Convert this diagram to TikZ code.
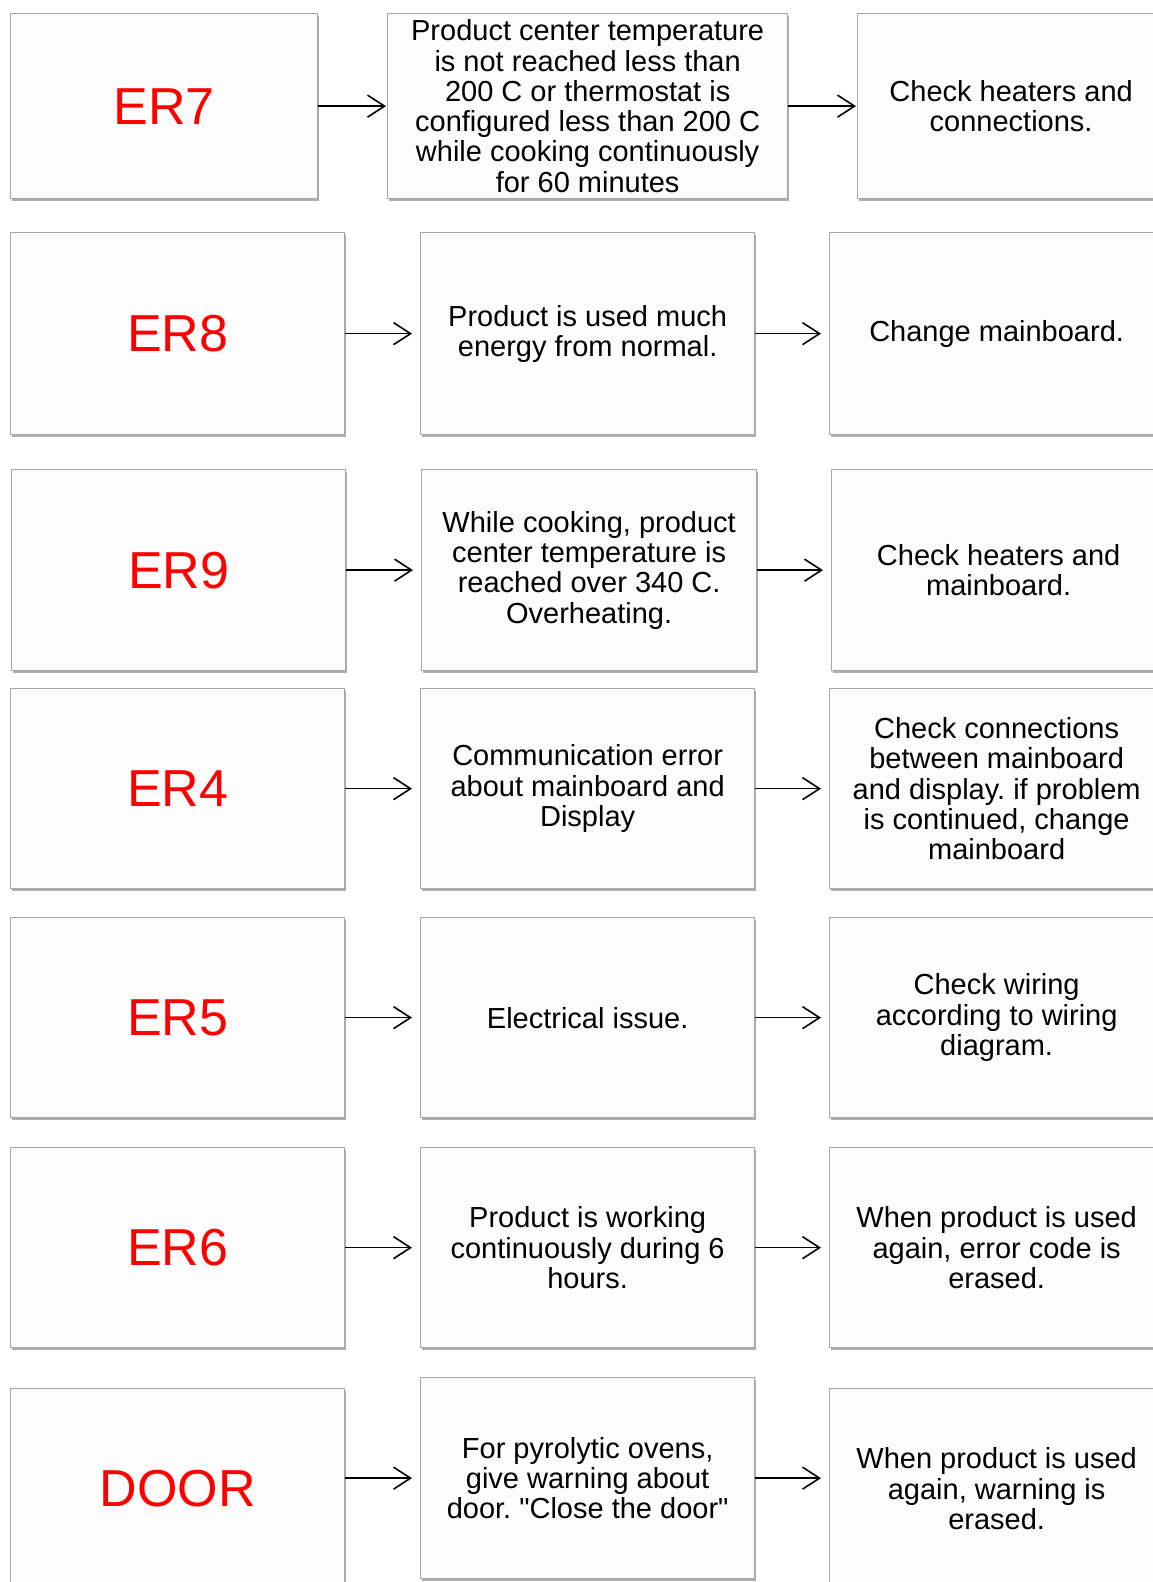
\documentclass[tikz,border=0pt]{standalone}
\usepackage{fontspec}
\setmainfont{Liberation Sans}[Ligatures=TeXOff]
\usetikzlibrary{arrows.meta,shadows}
\frenchspacing
\begin{document}
\begin{tikzpicture}[x=1pt,y=-1pt,
  box/.style={draw=gray!70, line width=1.3pt, fill=black!1, anchor=north west,
    align=center, inner sep=0pt, font=\fontsize{29}{30.3}\selectfont,
    drop shadow={shadow xshift=1.2pt, shadow yshift=-2.5pt, opacity=0.45, fill=black!70}},
  codebox/.style={box, text=red, font=\fontsize{52}{60}\selectfont},
  arr/.style={line width=1.6pt, -{Straight Barb[length=17pt,width=22pt,line width=1.6pt]}},
  gap/.style={shorten >=8pt}
]
\useasboundingbox[fill=white] (0,0) rectangle (1152,1582);

% Row 1
\node[codebox, minimum width=307pt, minimum height=185pt] (c1) at (10,13) {ER7};
\node[box, minimum width=400pt, minimum height=185pt] (m1) at (387,13) {Product center temperature\\is not reached less than\\200 C or thermostat is\\configured less than 200 C\\while cooking continuously\\for 60 minutes};
\node[box, minimum width=307pt, minimum height=185pt] (r1) at (857,13) {Check heaters and\\connections.};

% Row 2
\node[codebox, minimum width=334pt, minimum height=202pt] (c2) at (10,232) {ER8};
\node[box, minimum width=334pt, minimum height=202pt] (m2) at (420,232) {Product is used much\\energy from normal.};
\node[box, minimum width=334pt, minimum height=202pt] (r2) at (829,232) {Change mainboard.};

% Row 3
\node[codebox, minimum width=334pt, minimum height=201pt] (c3) at (11,469) {ER9};
\node[box, minimum width=335pt, minimum height=201pt] (m3) at (421,469) {While cooking, product\\center temperature is\\reached over 340 C.\\Overheating.};
\node[box, minimum width=334pt, minimum height=201pt] (r3) at (831,469) {Check heaters and\\mainboard.};

% Row 4
\node[codebox, minimum width=334pt, minimum height=200pt] (c4) at (10,688) {ER4};
\node[box, minimum width=334pt, minimum height=200pt] (m4) at (420,688) {Communication error\\about mainboard and\\Display};
\node[box, minimum width=334pt, minimum height=200pt] (r4) at (829,688) {Check connections\\between mainboard\\and display. if problem\\is continued, change\\mainboard};

% Row 5
\node[codebox, minimum width=334pt, minimum height=200pt] (c5) at (10,917) {ER5};
\node[box, minimum width=334pt, minimum height=200pt] (m5) at (420,917) {Electrical issue.};
\node[box, minimum width=334pt, minimum height=200pt] (r5) at (829,917) {Check wiring\\according to wiring\\diagram.};

% Row 6
\node[codebox, minimum width=334pt, minimum height=200pt] (c6) at (10,1147) {ER6};
\node[box, minimum width=334pt, minimum height=200pt] (m6) at (420,1147) {Product is working\\continuously during 6\\hours.};
\node[box, minimum width=334pt, minimum height=200pt] (r6) at (829,1147) {When product is used\\again, error code is\\erased.};

% Row 7
\node[codebox, minimum width=334pt, minimum height=200pt] (c7) at (10,1388) {DOOR};
\node[box, minimum width=334pt, minimum height=201pt] (m7) at (420,1377) {For pyrolytic ovens,\\give warning about\\door. "Close the door"};
\node[box, minimum width=334pt, minimum height=200pt] (r7) at (829,1388) {When product is used\\again, warning is\\erased.};

% Arrows
\draw[arr, shorten >=1pt] (m1.west -| c1.east) -- (m1.west);
\draw[arr, shorten >=1pt] (m1.east) -- (m1.east -| r1.west);
\foreach \i in {2,...,7}{
  \draw[arr, gap] (m\i.west -| c\i.east) -- (m\i.west);
  \draw[arr, gap] (m\i.east) -- (m\i.east -| r\i.west);
}
\end{tikzpicture}
\end{document}
